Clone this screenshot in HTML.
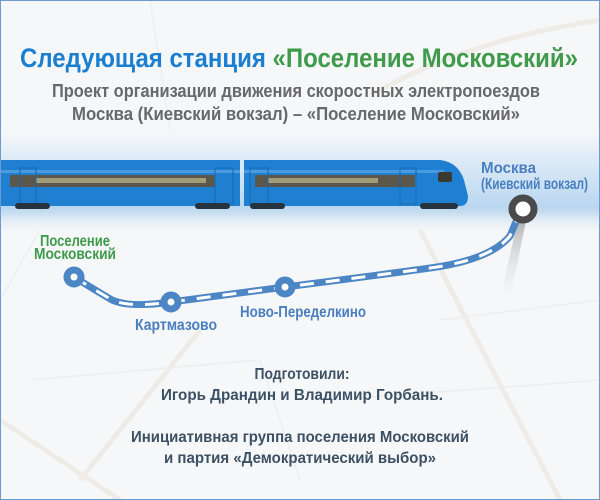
<!DOCTYPE html>
<html><head><meta charset="utf-8"><style>
html,body{margin:0;padding:0;}
body{width:600px;height:500px;overflow:hidden;background:#f7f8f9;}
svg{display:block}
text{font-family:"Liberation Sans Narrow","Liberation Sans",sans-serif;font-weight:bold;}
</style></head><body>
<svg width="600" height="500" viewBox="0 0 600 500" xmlns="http://www.w3.org/2000/svg">
<defs>
<linearGradient id="band" x1="0" y1="0" x2="0" y2="1">
<stop offset="0" stop-color="#f4f7fa" stop-opacity="0"/>
<stop offset="0.25" stop-color="#e3eef8"/>
<stop offset="0.75" stop-color="#b9d7f0"/>
<stop offset="0.8" stop-color="#c9def0"/>
<stop offset="1" stop-color="#f4f7fa" stop-opacity="0"/>
</linearGradient>
<linearGradient id="stem" x1="0" y1="0" x2="0" y2="1">
<stop offset="0" stop-color="#777"/><stop offset="1" stop-color="#ddd" stop-opacity="0"/>
</linearGradient>
</defs>
<rect width="600" height="500" fill="#f6f7f9"/>
<g stroke="#efece7" stroke-width="5" fill="none">
<path d="M380 90 Q470 40 600 20"/>
<path d="M0 420 L120 500"/>
<path d="M420 230 L560 500"/>
<path d="M200 330 L80 480"/>
</g>
<g stroke="#eceef1" stroke-width="1.5" fill="none">
<path d="M150 0 L170 130"/><path d="M30 380 L260 360 L300 480"/><path d="M440 320 L600 300"/>
<path d="M0 300 L40 230"/><path d="M330 400 L600 380"/>
</g>
<rect x="0" y="125" width="600" height="110" fill="url(#band)"/>
<text x="20" y="67" font-size="27" textLength="558" lengthAdjust="spacingAndGlyphs"><tspan fill="#1b7fd1">Следующая станция </tspan><tspan fill="#3f9b4b">«Поселение Московский»</tspan></text>
<text x="52" y="97" font-size="18" fill="#686868" textLength="488" lengthAdjust="spacingAndGlyphs">Проект организации движения скоростных электропоездов</text>
<text x="72" y="120" font-size="18" fill="#686868" textLength="448" lengthAdjust="spacingAndGlyphs">Москва (Киевский вокзал) – «Поселение Московский»</text>
<g>
<path d="M0 160 H240 V206 H0 Z" fill="#1f80d2"/>
<path d="M244 160 H440 Q458 162 464 180 L468 196 Q468 206 460 206 H244 Z" fill="#1f80d2"/>
<rect x="0" y="170" width="240" height="3" fill="#4a9ae0"/>
<rect x="244" y="170" width="200" height="3" fill="#4a9ae0"/>
<rect x="10" y="175" width="205" height="12" fill="#5b574b"/>
<rect x="255" y="175" width="160" height="12" fill="#5b574b"/>
<g fill="#a39c78">
<rect x="36" y="178" width="170" height="5"/><rect x="268" y="178" width="110" height="5"/>
</g>
<g stroke="#1667b0" stroke-width="1" fill="none">
<rect x="20" y="168" width="16" height="36"/><rect x="215" y="168" width="18" height="36"/>
<rect x="250" y="168" width="18" height="36"/><rect x="400" y="168" width="16" height="36"/>
</g>
<rect x="438" y="172" width="14" height="10" rx="2" fill="#3b3a30"/>
<g fill="#26323d">
<rect x="15" y="203" width="35" height="6" rx="3"/><rect x="195" y="203" width="35" height="6" rx="3"/>
<rect x="250" y="203" width="35" height="6" rx="3"/><rect x="420" y="203" width="38" height="6" rx="3"/>
</g>
</g>
<path d="M519 214 L527 216 L510 300 L500 300 Z" fill="url(#stem)" opacity="0.6"/>
<path d="M74 277 Q95 290 112 300 Q130 308 171 302 L285 287 Q380 275 430 268 Q490 260 510 236 L520 212" fill="none" stroke="#4c86c4" stroke-width="7"/>
<path d="M74 277 Q95 290 112 300 Q130 308 171 302 L285 287 Q380 275 430 268 Q490 260 510 236 L520 212" fill="none" stroke="#fff" stroke-width="3" stroke-dasharray="14 12"/>
<g fill="#fff" stroke="#4c86c4" stroke-width="7">
<circle cx="74" cy="277" r="7"/><circle cx="171" cy="302" r="7"/><circle cx="285" cy="287" r="7"/>
</g>
<circle cx="523" cy="209" r="11" fill="#fff" stroke="#4a4a4a" stroke-width="7"/>
<text x="75" y="246" font-size="16" fill="#3f9b4b" text-anchor="middle" textLength="70" lengthAdjust="spacingAndGlyphs">Поселение</text>
<text x="75" y="259" font-size="16" fill="#3f9b4b" text-anchor="middle" textLength="82" lengthAdjust="spacingAndGlyphs">Московский</text>
<text x="135" y="330" font-size="16" fill="#4a7fbf" textLength="82" lengthAdjust="spacingAndGlyphs">Картмазово</text>
<text x="240" y="317" font-size="16" fill="#4a7fbf" textLength="126" lengthAdjust="spacingAndGlyphs">Ново-Переделкино</text>
<text x="481" y="173" font-size="16" fill="#4a7fbf" textLength="55" lengthAdjust="spacingAndGlyphs">Москва</text>
<text x="481" y="189" font-size="16" fill="#4a7fbf" textLength="107" lengthAdjust="spacingAndGlyphs">(Киевский вокзал)</text>
<g fill="#3d5164" font-size="16" text-anchor="middle">
<text x="302" y="379" textLength="95" lengthAdjust="spacingAndGlyphs">Подготовили:</text>
<text x="302" y="400" textLength="282" lengthAdjust="spacingAndGlyphs">Игорь Драндин и Владимир Горбань.</text>
<text x="300" y="442" textLength="338" lengthAdjust="spacingAndGlyphs">Инициативная группа поселения Московский</text>
<text x="300" y="463" textLength="272" lengthAdjust="spacingAndGlyphs">и партия «Демократический выбор»</text>
</g>
<rect x="0.5" y="0.5" width="599" height="499" fill="none" stroke="#6d9ad0" stroke-width="1"/>
</svg>
</body></html>
